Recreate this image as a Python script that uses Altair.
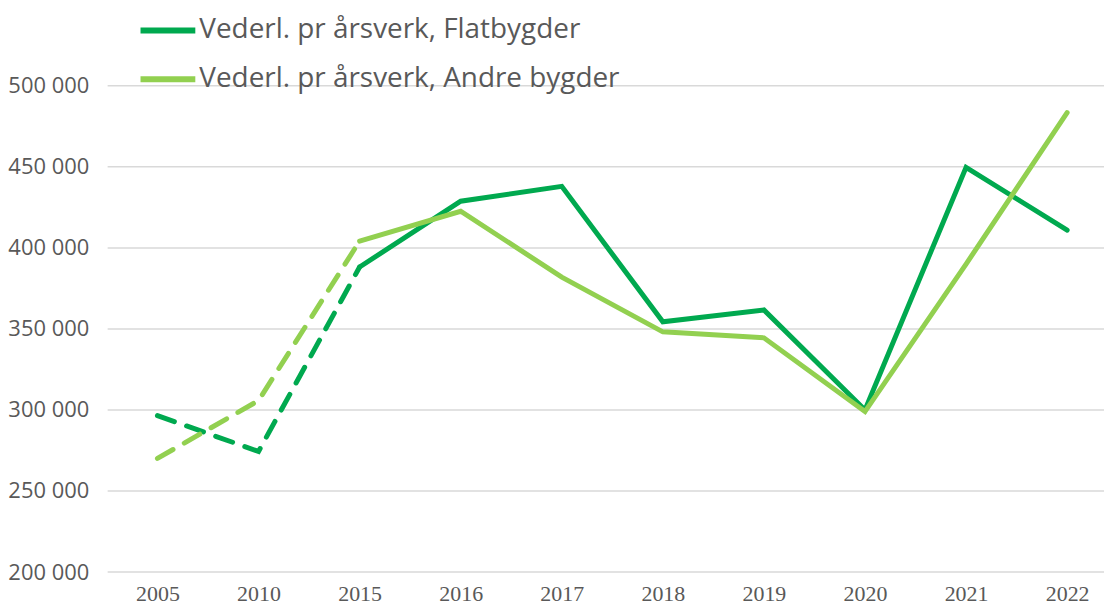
import altair as alt
import pandas as pd

years = ["2005", "2010", "2015", "2016", "2017", "2018", "2019", "2020", "2021", "2022"]
flat = [296500, 274400, 388200, 428800, 438000, 354400, 361700, 300000, 449700, 410900]
andre = [270100, 305800, 404200, 422600, 382000, 348200, 344500, 299000, 390000, 483500]
series = ["Vederl. pr årsverk, Flatbygder", "Vederl. pr årsverk, Andre bygder"]
colors = ["#00A94F", "#92D050"]
dashed_years = ["2005", "2010", "2015"]
y_ticks = [200000, 250000, 300000, 350000, 400000, 450000, 500000]

rows = []
for s, vals in zip(series, [flat, andre]):
    for yr, v in zip(years, vals):
        rows.append({"year": yr, "value": v, "series": s})
df = pd.DataFrame(rows)
grid_df = pd.DataFrame({"value": y_ticks})

FONT = "Open Sans"
W, H = 1000, 488

x_enc = alt.X("year:N", sort=years, title=None,
              scale=alt.Scale(type="point", range=[50, 963], padding=0),
              axis=alt.Axis(grid=False, domain=False, ticks=False, labelAngle=0,
                            labelFont="Liberation Sans Narrow", labelFontSize=22,
                            labelColor="#595959", labelPadding=12))
y_scale = alt.Scale(domain=[200000, 500000], nice=False, zero=False)
y_enc = alt.Y("value:Q", title=None, scale=y_scale,
              axis=alt.Axis(values=y_ticks, domain=False, ticks=False, grid=False,
                            labelExpr="replace(format(datum.value, ','), ',', ' ')",
                            labelFont=FONT, labelFontSize=22, labelColor="#595959",
                            labelPadding=19))
color_scale = alt.Scale(domain=series, range=colors)
legend = alt.Legend(title=None, orient="none", legendX=30, legendY=-86,
                    symbolType="stroke", symbolSize=3025,
                    symbolStrokeWidth=6, labelFont=FONT,
                    labelFontSize=28, labelColor="#595959",
                    labelOffset=1, labelLimit=0, rowPadding=4)

grid = alt.Chart(grid_df).mark_rule(color="#D9D9D9", strokeWidth=1.5).encode(
    y=y_enc
)

base = alt.Chart(df)

dashed = base.transform_filter(
    alt.FieldOneOfPredicate(field="year", oneOf=dashed_years)
).mark_line(strokeWidth=5, strokeDash=[18, 13], strokeCap="round").encode(
    x=x_enc, y=y_enc,
    color=alt.Color("series:N", scale=color_scale, sort=series, legend=legend),
)

solid = base.transform_filter(
    alt.FieldOneOfPredicate(field="year", oneOf=years[2:])
).mark_line(strokeWidth=5, strokeCap="round", strokeJoin="miter").encode(
    x=x_enc, y=y_enc,
    color=alt.Color("series:N", scale=color_scale, sort=series, legend=legend),
)

chart = alt.layer(grid, dashed, solid).properties(
    width=W, height=H, background="white",
    view=alt.ViewBackground(stroke="transparent", strokeWidth=0),
    padding={"left": 100, "top": 77, "right": 0, "bottom": 40},
    autosize=alt.AutoSizeParams(type="none"),
).configure_view(
    stroke="transparent", strokeWidth=0
).configure_axis(
    domain=False, grid=False, ticks=False
)

chart.save("out.html", embed_options={"renderer": "svg", "actions": False})
